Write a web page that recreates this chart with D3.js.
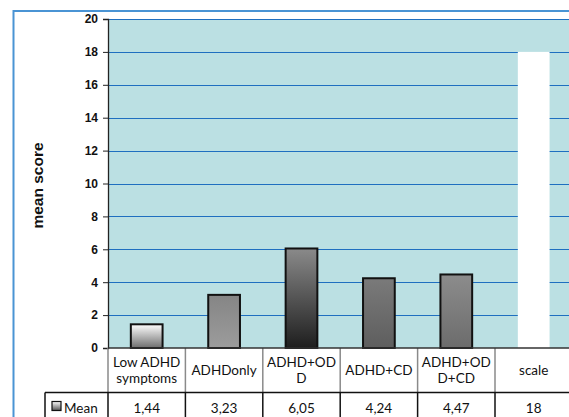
<!DOCTYPE html>
<html><head><meta charset="utf-8">
<script src="https://cdn.jsdelivr.net/npm/d3@7"></script>
<style>body{margin:0;background:#fff;}svg{display:block;}</style>
</head><body>
<script>
const categories = [["Low ADHD","symptoms"],["ADHDonly"],["ADHD+OD","D"],["ADHD+CD"],["ADHD+OD","D+CD"],["scale"]];
const means = [1.44, 3.23, 6.05, 4.24, 4.47, 18];
const meanLabels = ["1,44","3,23","6,05","4,24","4,47","18"];
const yTicks = [0,2,4,6,8,10,12,14,16,18,20];
const seriesName = "Mean";

(function(){
const W = 569, H = 417;
const svg = d3.select("body").append("svg").attr("width", W).attr("height", H);
const defs = svg.append("defs");
const grads = [
  ["#ffffff","#6e6e6e"],
  ["#858585","#9c9c9c"],
  ["#8a8a8a","#1e1e1e"],
  ["#7a7a7a","#5e5e5e"],
  ["#8c8c8c","#6c6c6c"],
  ["#ffffff","#ffffff"]
];
grads.forEach((g,i)=>{
  const lg = defs.append("linearGradient").attr("id","g"+i).attr("x1",0).attr("y1",0).attr("x2",0).attr("y2",1);
  lg.append("stop").attr("offset","0%").attr("stop-color",g[0]);
  lg.append("stop").attr("offset","100%").attr("stop-color",g[1]);
});
const lgL = defs.append("linearGradient").attr("id","gl").attr("x1",0).attr("y1",0).attr("x2",0).attr("y2",1);
lgL.append("stop").attr("offset","0%").attr("stop-color","#ffffff");
lgL.append("stop").attr("offset","100%").attr("stop-color","#555");

svg.append("rect").attr("x",13.5).attr("y",11).attr("width",W).attr("height",H)
  .attr("fill","none").attr("stroke","#4a94d4").attr("stroke-width",2);

const pL = 108, pR = 572.4, pT = 19, pB = 348;
const x = d3.scaleBand().domain(d3.range(categories.length)).range([pL,pR]).paddingInner(0).paddingOuter(0);
const y = d3.scaleLinear().domain([0,20]).range([pB, pT]);

svg.append("rect").attr("x",pL).attr("y",pT).attr("width",pR-pL).attr("height",pB-pT).attr("fill","#bbe0e3");

svg.append("g").selectAll("line").data(yTicks.filter(d=>d>0)).join("line")
  .attr("x1",pL).attr("x2",pR).attr("y1",d=>Math.round(y(d))+0.5).attr("y2",d=>Math.round(y(d))+0.5)
  .attr("stroke","#1f6fc0").attr("stroke-width",1.2);

const bw = x.bandwidth()*0.41;
svg.append("g").selectAll("rect").data(means).join("rect")
  .attr("x",(d,i)=>x(i)+x.bandwidth()/2-bw/2)
  .attr("y",d=>y(d))
  .attr("width",bw)
  .attr("height",d=>pB-y(d))
  .attr("fill",(d,i)=>`url(#g${i})`)
  .attr("stroke",(d,i)=> i===5 ? "none" : "#111")
  .attr("stroke-width",2);

const yAxis = d3.axisLeft(y).tickValues(yTicks).tickSize(5).tickPadding(5);
const ga = svg.append("g").attr("transform",`translate(${pL},0)`).call(yAxis);
ga.select(".domain").attr("stroke","#222").attr("stroke-width",1.3);
ga.selectAll(".tick line").attr("stroke","#222");
ga.selectAll("text").attr("font-family","Liberation Sans, Arial, sans-serif").attr("font-size","12px").attr("font-weight","bold").attr("fill","#111");

svg.append("text").attr("transform",`translate(43,${(pT+pB)/2 + 2}) rotate(-90)`)
  .attr("text-anchor","middle").attr("font-family","Liberation Sans, Arial, sans-serif")
  .attr("font-size","15.5px").attr("font-weight","bold").attr("fill","#111").text("mean score");

const rowTop = pB, rowMid = 392.5, rowBot = H + 5;
const tg = svg.append("g");
const sepX = i => i<categories.length ? x(i) : pR;
tg.selectAll("line.hs").data(d3.range(categories.length+1)).join("line")
  .attr("x1",sepX).attr("x2",sepX)
  .attr("y1",rowTop).attr("y2",rowMid).attr("stroke","#8a8a8a").attr("stroke-width",1.5);
tg.selectAll("line.ms").data(d3.range(categories.length+1)).join("line")
  .attr("x1",sepX).attr("x2",sepX)
  .attr("y1",rowMid).attr("y2",rowBot).attr("stroke","#111").attr("stroke-width",1.5);
tg.append("line").attr("x1",45).attr("x2",45).attr("y1",rowMid).attr("y2",rowBot).attr("stroke","#111").attr("stroke-width",1.5);
tg.append("line").attr("x1",45).attr("x2",pR).attr("y1",rowMid).attr("y2",rowMid).attr("stroke","#111").attr("stroke-width",1.5);
svg.append("line").attr("x1",pL).attr("x2",pR).attr("y1",pB).attr("y2",pB).attr("stroke","#333").attr("stroke-width",1.3);

const tf = "Lato, 'Open Sans', sans-serif";
const fs = "13.5px";
categories.forEach((lines,i)=>{
  const cx = x(i)+x.bandwidth()/2;
  const cy = (rowTop+rowMid)/2;
  const lh = 16;
  lines.forEach((t,j)=>{
    svg.append("text").attr("x",cx).attr("y",cy + (j-(lines.length-1)/2)*lh + 5)
      .attr("text-anchor","middle").attr("font-family",tf).attr("font-size",fs).attr("fill","#111").text(t);
  });
  svg.append("text").attr("x",cx).attr("y",412.5).attr("text-anchor","middle")
    .attr("font-family",tf).attr("font-size",fs).attr("fill","#111").text(meanLabels[i]);
});
svg.append("rect").attr("x",52).attr("y",401.5).attr("width",9).attr("height",9)
  .attr("fill","url(#gl)").attr("stroke","#111").attr("stroke-width",1.2);
svg.append("text").attr("x",64).attr("y",412.5).attr("font-family",tf).attr("font-size",fs).attr("fill","#111").text(seriesName);
})();
</script>
</body></html>
